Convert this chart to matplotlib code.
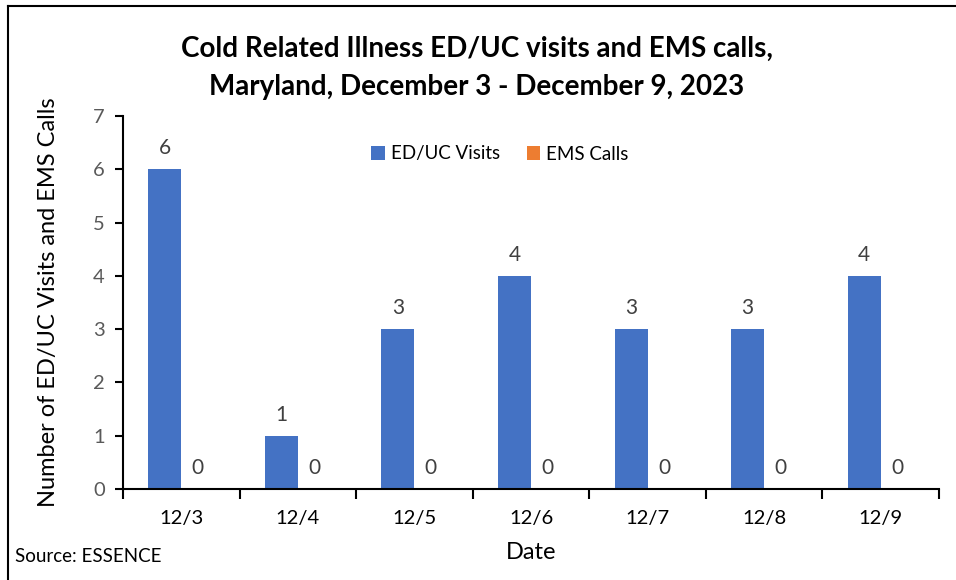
import matplotlib
matplotlib.use("Agg")
import matplotlib.pyplot as plt
import numpy as np
from matplotlib.lines import Line2D

plt.rcParams['font.family'] = ['Lato', 'DejaVu Sans']

dates = ["12/3", "12/4", "12/5", "12/6", "12/7", "12/8", "12/9"]
ed_uc_visits = [6, 1, 3, 4, 3, 3, 4]
ems_calls = [0, 0, 0, 0, 0, 0, 0]
series_names = ["ED/UC Visits", "EMS Calls"]
title = "Cold Related Illness ED/UC visits and EMS calls,\nMaryland, December 3 - December 9, 2023"

W, H = 956, 580
fig = plt.figure(figsize=(W / 100, H / 100), dpi=100)
ax = fig.add_axes([123 / W, 1 - 489 / H, (939 - 123) / W, (489 - 116) / H])

x = np.arange(len(dates))
bw = 0.283
b1 = ax.bar(x - bw / 2, ed_uc_visits, bw, color="#4472C4", label=series_names[0])
b2 = ax.bar(x + bw / 2, ems_calls, bw, color="#ED7D31", label=series_names[1])
for bars in (b1, b2):
    ax.bar_label(bars, padding=8, fontsize=15, color="#404040")

ax.set_xlim(-0.5, len(dates) - 0.5)
ax.set_ylim(0, 7)
ax.set_yticks(range(0, 8))
ax.set_xticks(x)
ax.set_xticklabels(dates)
ax.set_xticks(np.arange(-0.5, len(dates), 1), minor=True)
ax.tick_params(axis='x', which='major', length=0, pad=15, labelsize=14.5, labelcolor="#000000")
ax.tick_params(axis='x', which='minor', length=7, width=1.5, color="black", direction='out')
ax.tick_params(axis='y', length=6, width=1.5, color="black", pad=7, labelsize=14.5, labelcolor="#595959")
for s in ("top", "right"):
    ax.spines[s].set_visible(False)
for s in ("left", "bottom"):
    ax.spines[s].set_linewidth(1.5)

ax.set_ylabel("Number of ED/UC Visits and EMS Calls", fontsize=17, color="black")
ax.yaxis.set_label_coords((59 - 123) / 816, 0.5)
ax.set_xlabel("Date", fontsize=17, color="black")
ax.xaxis.set_label_coords(0.5, -(542 - 489) / 373)

fig.text(477 / W, 1 - 68 / H, title, ha='center', va='center', fontsize=20,
         fontweight='bold', linespacing=1.6)
fig.text(15 / W, 1 - 557 / H, "Source: ESSENCE", ha='left', va='center', fontsize=13.5)

leg = ax.legend(loc='center', bbox_to_anchor=(500 / W, 1 - 154 / H), bbox_transform=fig.transFigure,
                ncol=2, frameon=False, fontsize=13.5, handlelength=0.7, handleheight=0.7,
                handletextpad=0.35, columnspacing=1.4)

fig.add_artist(Line2D([8 / W, 8 / W], [0, 1 - 6 / H], transform=fig.transFigure, color='black', lw=1.5))
fig.add_artist(Line2D([8 / W, 1], [1 - 6 / H, 1 - 6 / H], transform=fig.transFigure, color='black', lw=1.5))

fig.savefig("out.png", dpi=100)
